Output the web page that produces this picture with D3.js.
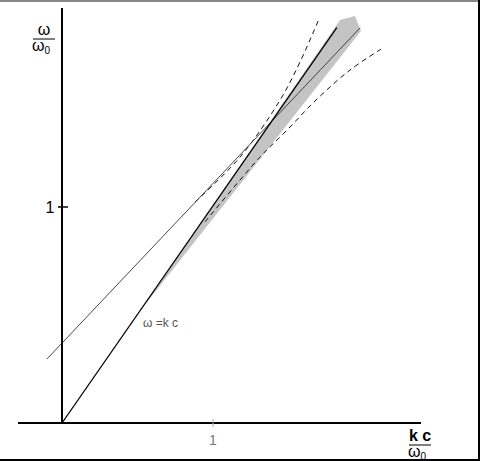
<!DOCTYPE html>
<html>
<head>
<meta charset="utf-8">
<script src="https://cdn.jsdelivr.net/npm/d3@7"></script>
<style>
  body { margin: 0; background: #fff; }
  svg text { font-family: "Liberation Sans", Arial, sans-serif; }
</style>
</head>
<body>
<div id="chart"></div>
<script>
// ----- data (units of omega_0 and omega_0/c) -----
var lightLine = [[0, 0], [1.82, 1.83]];              // omega = k c
var thinLine = [[-0.1, 0.296], [1.975, 1.83]];        // shifted straight line
var upperDashed = [[0.881, 1.023], [1.179, 1.231], [1.444, 1.495], [1.576, 1.671], [1.702, 1.870]];
var lowerDashed = [[0.947, 0.931], [1.311, 1.231], [1.490, 1.356], [1.682, 1.495], [1.907, 1.634], [2.113, 1.731]];
var band = [[0.517, 0.519], [1.841, 1.866], [1.940, 1.884], [1.980, 1.815]];
var xTicks = [1];
var yTicks = [1];

var width = 480, height = 461;

var svg = d3.select("#chart").append("svg")
	.attr("width", width)
	.attr("height", height);

var x = d3.scaleLinear().domain([0, 1]).range([62, 213]);
var y = d3.scaleLinear().domain([0, 1]).range([423, 207]);

var line = d3.line()
	.x(function(d) { return x(d[0]); })
	.y(function(d) { return y(d[1]); });

//Frame round the picture
svg.append("rect").attr("x", 0).attr("y", 0).attr("width", width).attr("height", 2).style("fill", "#888");
svg.append("rect").attr("x", 478).attr("y", 0).attr("width", 2).attr("height", height).style("fill", "#000");
svg.append("rect").attr("x", 0).attr("y", 459).attr("width", width).attr("height", 2).style("fill", "#000");

//Gray band
svg.append("path")
	.attr("d", line(band) + "Z")
	.style("fill", "#c4c4c4")
	.style("stroke", "none");

//Curves
svg.append("path")
	.attr("d", line.curve(d3.curveCatmullRom)(upperDashed))
	.style("fill", "none").style("stroke", "#111").style("stroke-width", 1)
	.style("stroke-dasharray", "5,4");
svg.append("path")
	.attr("d", line.curve(d3.curveCatmullRom)(lowerDashed))
	.style("fill", "none").style("stroke", "#111").style("stroke-width", 1)
	.style("stroke-dasharray", "5,4");
line.curve(d3.curveLinear);

svg.append("path")
	.attr("d", line(thinLine))
	.style("fill", "none").style("stroke", "#333").style("stroke-width", 0.9);

svg.append("path")
	.attr("d", line(lightLine))
	.style("fill", "none").style("stroke", "#000").style("stroke-width", 1.3);

//Axes
svg.append("line")
	.attr("x1", 18).attr("x2", 421).attr("y1", y(0)).attr("y2", y(0))
	.style("stroke", "#000").style("stroke-width", 2);
svg.append("line")
	.attr("x1", x(0)).attr("x2", x(0)).attr("y1", 8).attr("y2", y(0))
	.style("stroke", "#000").style("stroke-width", 2);

//Ticks
svg.selectAll(".xtick").data(xTicks).enter().append("line")
	.attr("x1", function(d) { return x(d); }).attr("x2", function(d) { return x(d); })
	.attr("y1", y(0) - 4).attr("y2", y(0) + 4)
	.style("stroke", "#aaa").style("stroke-width", 1);
svg.selectAll(".xlabel").data(xTicks).enter().append("text")
	.attr("x", function(d) { return x(d); }).attr("y", 445)
	.attr("text-anchor", "middle")
	.style("font-size", "14px").style("fill", "#777")
	.text(function(d) { return d; });

svg.selectAll(".ytick").data(yTicks).enter().append("line")
	.attr("x1", x(0) - 4).attr("x2", x(0) + 6)
	.attr("y1", function(d) { return y(d); }).attr("y2", function(d) { return y(d); })
	.style("stroke", "#000").style("stroke-width", 1.5);
svg.selectAll(".ylabel").data(yTicks).enter().append("text")
	.attr("x", 50).attr("y", function(d) { return y(d) + 6; })
	.attr("text-anchor", "middle")
	.style("font-size", "16px").style("fill", "#000")
	.text(function(d) { return d; });

//Axis titles as fractions
function fraction(cx, top, numText, bold) {
	var g = svg.append("g");
	g.append("text").attr("x", cx).attr("y", top)
		.attr("text-anchor", "middle")
		.style("font-size", "16px").style("font-weight", bold ? "bold" : "normal")
		.text(numText);
	g.append("line").attr("x1", cx - 11).attr("x2", cx + 11)
		.attr("y1", top + 4).attr("y2", top + 4)
		.style("stroke", "#000").style("stroke-width", 1);
	var den = g.append("text").attr("x", cx - 3).attr("y", top + 16)
		.attr("text-anchor", "middle")
		.style("font-size", "16px");
	den.append("tspan").text("ω");
	den.append("tspan").attr("dy", 3).style("font-size", "10px").text("0");
}
fraction(44, 35, "ω", false);
fraction(420, 441, "k c", true);

svg.append("text")
	.attr("x", 143).attr("y", 327)
	.style("font-size", "12px").style("fill", "#555")
	.text("ω =k c");
</script>
</body>
</html>
